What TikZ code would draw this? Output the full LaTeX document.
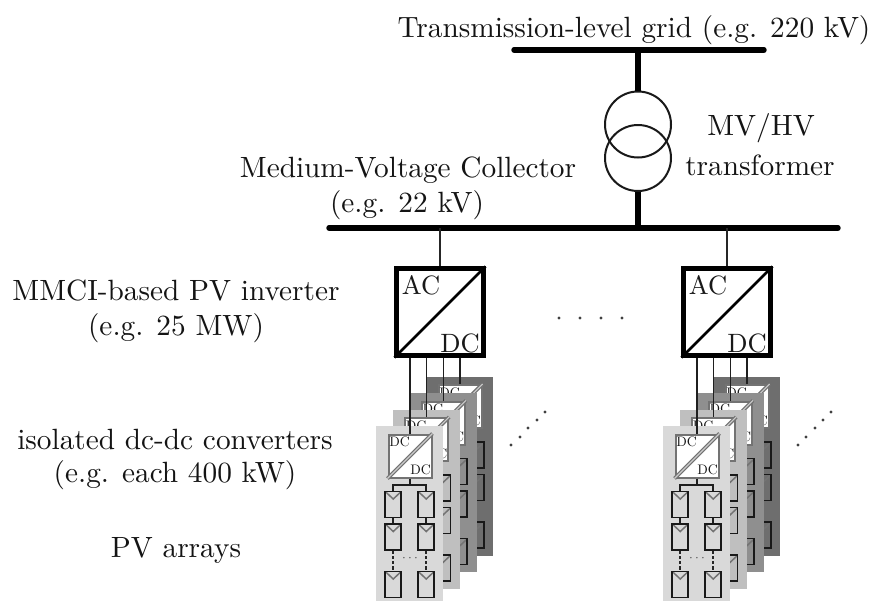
\documentclass[tikz,border=0pt]{standalone}
\tikzset{
  lbl/.style={inner sep=0pt,scale=2.93,align=center,text=black!92},
  bus/.style={line width=5.4pt,line cap=round},
  riser/.style={line width=6pt},
  thinwire/.style={line width=1.4pt,black!85},
  winding/.style={circle,draw=black!90,line width=2pt,minimum size=66pt,inner sep=0pt},
  inverter/.style={draw=black,line width=4.2pt,fill=white,minimum size=87pt,inner sep=0pt},
  invdiag/.style={line width=2.6pt},
  invtxt/.style={inner sep=0pt,scale=2.65,text=black!90},
  panel/.style={minimum width=67pt,inner sep=0pt,anchor=north west,minimum height=179pt},
  conv/.style={draw=black!55,line width=2pt,fill=white,minimum size=43pt,inner sep=0pt},
  convdiag/.style={draw=black!55,line width=1.3pt,double=black!20,double distance=1.1pt},
  convtxt/.style={inner sep=0pt,scale=1.38,text=black!90},
  pvmod/.style={draw=black!90,line width=1.7pt,minimum width=15.5pt,minimum height=26pt,inner sep=0pt,
    path picture={\draw[black!55,line width=1.5pt] (path picture bounding box.north west) -- ++(8pt,-7.5pt) -- ++(8pt,7.5pt);}},
  link/.style={line width=1.5pt,black!88},
  gridlink/.style={line width=1.4pt,black!85,dash pattern=on 3.2pt off 2pt},
  smalldots/.style={inner sep=0pt,scale=1.35,text=black!70},
  dotmark/.style={circle,fill=black!75,inner sep=0pt,minimum size=3.4pt},
}
% #1 name prefix, #2 x shift, #3 y shift, #4 panel colour
\newcommand{\pvstack}[4]{%
  \begin{scope}[shift={(#2,#3)}]
    \node[panel,fill=#4] (#1panel) at (376,426) {};
    \node[conv] (#1conv) at (410,456) {};
    \draw[convdiag] (#1conv.south west) -- (#1conv.north east);
    \node[convtxt] (#1dca) at (399.5,442) {DC};
    \node[convtxt] (#1dcb) at (420.5,470) {DC};
    \coordinate (#1bus) at (410,485);
    \node[pvmod] (#1la) at (393,504.5) {};
    \node[pvmod] (#1ra) at (426,504.5) {};
    \node[pvmod] (#1lb) at (393,537) {};
    \node[pvmod] (#1rb) at (426,537) {};
    \node[pvmod] (#1lc) at (393,584.5) {};
    \node[pvmod] (#1rc) at (426,584.5) {};
    \draw[link] (#1conv.south) -- (#1bus);
    \draw[link] (#1la.north) |- (#1bus) -| (#1ra.north);
    \draw[link] (#1la.south) -- (#1lb.north);
    \draw[link] (#1ra.south) -- (#1rb.north);
    \draw[gridlink] (#1lb.south) -- (#1lc.north);
    \draw[gridlink] (#1rb.south) -- (#1rc.north);
    \node[smalldots] (#1dots) at (410,558) {$\cdots$};
  \end{scope}}
\begin{document}
\begin{tikzpicture}[x=1pt,y=-1pt]
\useasboundingbox (0,0) rectangle (873,600);
\fill[white] (0,0) rectangle (873,600);

% text
\node[lbl] (tgrid) at (634,30) {Transmission-level grid (e.g. 220 kV)};
\node[lbl] (tmvhv) at (761,128) {MV/HV};
\node[lbl] (ttrans) at (760,165) {transformer};
\node[lbl] (tcolla) at (408,170) {Medium-Voltage Collector};
\node[lbl] (tcollb) at (407,205) {(e.g. 22 kV)};
\node[lbl] (tinva) at (176,290) {MMCI-based PV inverter};
\node[lbl] (tinvb) at (176,328) {(e.g. 25 MW)};
\node[lbl] (tdca) at (175,439) {isolated dc-dc converters};
\node[lbl] (tdcb) at (175,475) {(e.g. each 400 kW)};
\node[lbl] (tpv) at (176,550) {PV arrays};

% buses and transformer
\coordinate (hvl) at (514,50);
\coordinate (hvr) at (764,50);
\coordinate (mvl) at (329,228);
\coordinate (mvr) at (838,228);
\node[winding] (wa) at (638,124.5) {};
\node[winding] (wb) at (638,158) {};
\draw[riser] (wa.north |- hvl) -- (wa.north);
\draw[riser] (wb.south) -- (wb.south |- mvl);
\draw[bus] (hvl) -- (hvr);
\draw[bus] (mvl) -- (mvr);

% inverters
\node[inverter] (inva) at (440,312) {};
\node[inverter] (invb) at (727,312) {};
\draw[thinwire] (inva.north) -- (inva.north |- mvl);
\draw[thinwire] (invb.north) -- (invb.north |- mvl);
\draw[invdiag] (inva.south west) -- (inva.north east);
\draw[invdiag] (invb.south west) -- (invb.north east);
\node[invtxt] (aca) at (421,285) {AC};
\node[invtxt] (dca) at (460,343) {DC};
\node[invtxt] (acb) at (708,285) {AC};
\node[invtxt] (dcb) at (747,343) {DC};

% stacks, back to front
\pvstack{ad}{50.1}{-49.5}{black!57}
\pvstack{ac}{33.4}{-33}{black!44}
\pvstack{ab}{16.7}{-16.5}{black!25}
\pvstack{aa}{0}{0}{black!15}
\pvstack{bd}{337.1}{-49.5}{black!57}
\pvstack{bc}{320.4}{-33}{black!44}
\pvstack{bb}{303.7}{-16.5}{black!25}
\pvstack{ba}{287}{0}{black!15}

\foreach \p in {aa,ab,ac,ad}{\draw[link] (inva.south -| \p conv.north) -- (\p conv.north);}
\foreach \p in {ba,bb,bc,bd}{\draw[link] (invb.south -| \p conv.north) -- (\p conv.north);}

% ellipsis dots
\foreach \n/\x in {1/559,2/580,3/601,4/622}{\node[dotmark] (hd\n) at (\x,318) {};}
\foreach \n/\x/\y in {1/511/445,2/520/437,3/528/428,4/537/420,5/545/412}{\node[dotmark] (la\n) at (\x,\y) {};}
\foreach \n/\x/\y in {1/798/445,2/806/437,3/815/428,4/823/420,5/831/412}{\node[dotmark] (lb\n) at (\x,\y) {};}
\end{tikzpicture}
\end{document}
